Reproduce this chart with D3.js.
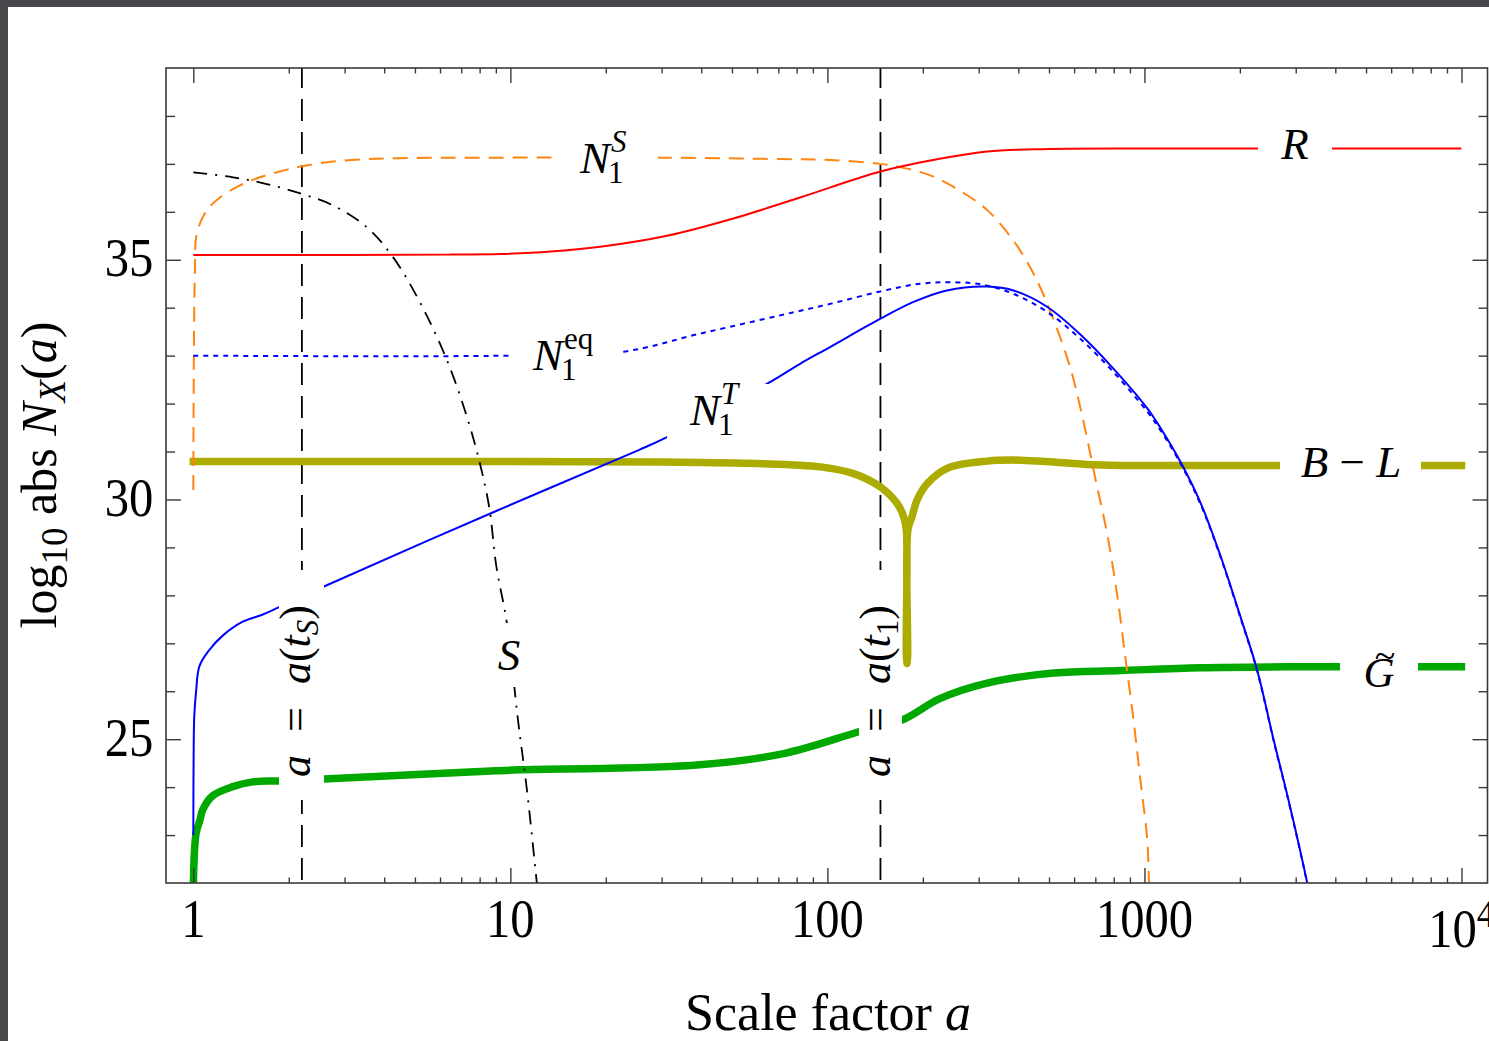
<!DOCTYPE html>
<html><head><meta charset="utf-8">
<script src="https://cdn.jsdelivr.net/npm/d3@7/dist/d3.min.js"></script>
<style>html,body{margin:0;padding:0;background:#48484c;overflow:hidden}svg{display:block}</style>
</head><body>
<svg id="chart" width="1489" height="1041"></svg>
<script>
// ---------------- data (scale factor a, log10 abs N) ----------------
const R_a = [1, 3.12, 6.45, 9.27, 13.4, 19.2, 31.2, 50.5, 82, 147, 211, 320, 504, 1000, 10000];
const R_v = [35.10, 35.10, 35.11, 35.12, 35.17, 35.27, 35.50, 35.86, 36.30, 36.84, 37.07, 37.26, 37.31, 37.32, 37.32];

const NS_a = [1, 1.004, 1.012, 1.025, 1.102, 1.214, 1.403, 1.623, 1.919, 2.198, 2.76, 3.53, 4.49, 9, 30, 71, 102, 147, 170, 211, 262, 320, 386, 447, 505, 584, 642, 700, 764, 822, 871, 923, 971, 1021, 1035];
const NS_v = [30.2, 33.0, 34.8, 35.54, 36.03, 36.30, 36.55, 36.72, 36.86, 36.95, 37.05, 37.10, 37.12, 37.13, 37.13, 37.10, 37.08, 37.00, 36.93, 36.76, 36.44, 36.03, 35.40, 34.71, 33.92, 32.74, 31.63, 30.44, 29.26, 27.97, 26.69, 25.42, 24.15, 22.88, 21.8];

const Neq_a = [1, 10, 22.5, 39.7, 71, 102, 147, 196, 244, 304, 386, 494, 628, 798, 1021, 1124, 1300, 1503, 1738, 2009, 2268, 2553, 2890, 3260, 3400];
const Neq_v = [33.0, 33.0, 33.08, 33.46, 33.84, 34.08, 34.34, 34.50, 34.53, 34.49, 34.29, 33.91, 33.35, 32.66, 31.83, 31.44, 30.75, 29.90, 28.80, 27.53, 26.42, 24.98, 23.53, 22.0, 21.4];

const NT_a = [1, 1.002, 1.007, 1.02, 1.045, 1.123, 1.238, 1.432, 1.656, 1.86, 2.593, 9.02, 25.4, 31.2, 65.2, 82, 102, 147, 187, 238, 319, 386, 493, 628, 798, 1021, 1124, 1300, 1503, 1738, 2009, 2268, 2553, 2890, 3260, 3400];
const NT_v = [23.0, 24.57, 25.49, 25.98, 26.52, 26.86, 27.16, 27.45, 27.60, 27.75, 28.19, 29.76, 31.03, 31.30, 32.43, 32.83, 33.18, 33.77, 34.12, 34.36, 34.44, 34.36, 34.02, 33.44, 32.73, 31.90, 31.49, 30.78, 29.93, 28.82, 27.55, 26.44, 25.0, 23.55, 22.01, 21.4];

const BL_a = [1, 10, 30, 60, 95, 121, 147, 165.8, 174, 177.4, 178.1, 178.5, 179.4, 184.9, 191.8, 206.3, 238.5, 318.8, 406, 517, 659, 840, 2686, 10000];
const BL_v = [30.79, 30.79, 30.78, 30.75, 30.68, 30.54, 30.26, 29.92, 29.64, 29.36, 26.58, 26.58, 29.36, 29.64, 29.99, 30.33, 30.65, 30.80, 30.82, 30.78, 30.73, 30.71, 30.71, 30.71];

const G_a = [1, 1.02, 1.05, 1.071, 1.151, 1.331, 1.539, 1.86, 2.58, 9.02, 10.57, 38.7, 74, 126.5, 172, 227, 319, 517, 840, 1502, 3105, 10000];
const G_v = [21.9, 23.03, 23.32, 23.53, 23.82, 24.01, 24.11, 24.13, 24.17, 24.34, 24.36, 24.46, 24.71, 25.16, 25.40, 25.85, 26.17, 26.38, 26.43, 26.49, 26.51, 26.51];

const S_a = [1, 1.335, 1.705, 2.198, 2.766, 3.525, 4.27, 5.17, 6.27, 7.25, 7.99, 8.59, 9.02, 9.75, 10.57, 11.28, 12.12, 12.3];
const S_v = [36.825, 36.72, 36.58, 36.375, 36.13, 35.68, 35.05, 34.13, 32.95, 31.78, 30.79, 29.81, 28.63, 27.42, 25.40, 23.94, 22.0, 21.6];

const vLines = [2.2, 147];           // a = a(t_S), a = a(t_1)
const xMajor = [1, 10, 100, 1000, 10000];
const xMajorLabels = ["1", "10", "100", "1000", "10^4"];
const yMajor = [25, 30, 35];
const yMajorLabels = ["25", "30", "35"];
const yMinor = [23, 24, 26, 27, 28, 29, 31, 32, 33, 34, 36, 37, 38];

// ---------------- layout ----------------
const W = 1489, H = 1041;
const L = 166, R = 1487.5, T = 68, B = 883;
const FONT = '"Liberation Serif","Times New Roman",serif';
const svg = d3.select('#chart');
svg.append('rect').attr('width', W).attr('height', H).attr('fill', '#48484c');
svg.append('rect').attr('x', 8).attr('y', 7).attr('width', W - 8).attr('height', H - 7).attr('fill', '#ffffff');

const x = d3.scaleLog().domain([0.82, 12080]).range([L, R]);
const y = d3.scaleLinear().domain([22, 39]).range([B, T]);

svg.append('defs').append('clipPath').attr('id', 'clip')
  .append('rect').attr('x', L).attr('y', T).attr('width', R - L).attr('height', B - T);

const plot = svg.append('g').attr('clip-path', 'url(#clip)');
const line = d3.line().x(d => x(d[0])).y(d => y(d[1])).curve(d3.curveCatmullRom.alpha(0.5));
const zip = (a, v) => a.map((d, i) => [d, v[i]]);

// vertical dashed lines
plot.selectAll('line.v').data(vLines).join('line')
  .attr('x1', d => x(d)).attr('x2', d => x(d)).attr('y1', T - 2).attr('y2', B)
  .attr('stroke', '#000').attr('stroke-width', 1.8).attr('stroke-dasharray', '22,11');

function curve(a, v, color, width, dash, cap) {
  plot.append('path').datum(zip(a, v)).attr('d', line)
    .attr('fill', 'none').attr('stroke', color).attr('stroke-width', width)
    .attr('stroke-dasharray', dash || null).attr('stroke-linecap', cap || 'butt')
    .attr('stroke-linejoin', 'bevel');
}
curve(G_a, G_v, '#00a800', 7.5, null, 'square');
curve(BL_a, BL_v, '#abab00', 7.5, null, 'square');
curve(NS_a, NS_v, '#ff8410', 2, '15,9');
curve(Neq_a, Neq_v, '#0000ff', 2, '5,5');
curve(NT_a, NT_v, '#0000ff', 2);
curve(R_a, R_v, '#ff0000', 2);
curve(S_a, S_v, '#000000', 1.8, '14,8,2,8');

// label gaps (white boxes behind labels)
const gaps = [
  [1258, 125, 1332, 170], [556, 128, 658, 190], [511, 330, 621, 385], [667, 384, 768, 442],
  [1280, 445, 1421, 485], [1340, 640, 1418, 690], [496, 623, 524, 687],
  [279, 570, 324, 800], [859, 570, 902, 800]
];
plot.selectAll('rect.gap').data(gaps).join('rect')
  .attr('x', d => d[0]).attr('y', d => d[1]).attr('width', d => d[2] - d[0]).attr('height', d => d[3] - d[1])
  .attr('fill', '#fff');

// ---------------- labels ----------------
const gL = svg.append('g').attr('font-family', FONT).attr('fill', '#000');
function itext(xp, yp, s, size, anchor) {
  return gL.append('text').attr('x', xp).attr('y', yp).attr('font-size', size).attr('font-style', 'italic')
    .attr('text-anchor', anchor || 'start').text(s);
}
function nLabel(xl, base, sup, sub, supItalic) {
  const t = itext(xl, base, 'N', 45);
  const w = t.node().getComputedTextLength();
  gL.append('text').attr('x', xl + w + 1).attr('y', base - 21).attr('font-size', 31)
    .attr('font-style', supItalic ? 'italic' : 'normal').text(sup);
  gL.append('text').attr('x', xl + w - 2).attr('y', base + 10).attr('font-size', 31).text(sub);
}
nLabel(580, 173, 'S', '1', true);
nLabel(533, 370, 'eq', '1', false);
nLabel(690, 425, 'T', '1', true);
itext(1295, 159, 'R', 45, 'middle');
itext(509, 670, 'S', 45, 'middle');
{
  const t = gL.append('text').attr('x', 1351).attr('y', 477).attr('font-size', 45).attr('text-anchor', 'middle');
  t.append('tspan').attr('font-style', 'italic').text('B');
  t.append('tspan').text(' \u2212 ');
  t.append('tspan').attr('font-style', 'italic').text('L');
}
itext(1379, 687, 'G', 43, 'middle');
gL.append('text').attr('x', 1385).attr('y', 668).attr('font-size', 38).attr('text-anchor', 'middle').text('~');

function vLabel(cx, cy, sub, subItalic) {
  const t = gL.append('text').attr('transform', `translate(${cx},${cy}) rotate(-90)`)
    .attr('text-anchor', 'middle').attr('font-size', 44);
  t.append('tspan').attr('font-style', 'italic').text('a');
  t.append('tspan').attr('dx', 23).text('=');
  t.append('tspan').attr('dx', 23).attr('font-style', 'italic').text('a');
  t.append('tspan').text('(');
  t.append('tspan').attr('font-style', 'italic').text('t');
  t.append('tspan').attr('font-size', 31).attr('dy', 8).attr('font-style', subItalic ? 'italic' : 'normal').text(sub);
  t.append('tspan').attr('dy', -8).text(')');
}
vLabel(x(vLines[0]) + 8, 691, 'S', true);
vLabel(x(vLines[1]) + 10, 691, '1', false);

// ---------------- frame & ticks ----------------
const AX = '#3a3a3a';
const gA = svg.append('g').attr('color', AX);
const xMinor = [];
for (const d of [1, 10, 100, 1000]) for (let k = 2; k <= 9; k++) xMinor.push(k * d);
function ticks(axisFn, scale, vals, size, tr) {
  gA.append('g').attr('transform', tr)
    .call(axisFn(scale).tickValues(vals).tickSize(size).tickFormat(''))
    .call(g => { g.select('.domain').remove(); g.selectAll('line').attr('stroke-width', 1.4); });
}
ticks(d3.axisTop, x, xMajor, 15, `translate(0,${B})`);
ticks(d3.axisTop, x, xMinor, 5.5, `translate(0,${B})`);
ticks(d3.axisBottom, x, xMajor, 15, `translate(0,${T})`);
ticks(d3.axisBottom, x, xMinor, 5.5, `translate(0,${T})`);
ticks(d3.axisRight, y, yMajor, 15, `translate(${L},0)`);
ticks(d3.axisRight, y, yMinor, 9, `translate(${L},0)`);
ticks(d3.axisLeft, y, yMajor, 15, `translate(${R},0)`);
ticks(d3.axisLeft, y, yMinor, 9, `translate(${R},0)`);
svg.append('rect').attr('x', L).attr('y', T).attr('width', R - L).attr('height', B - T)
  .attr('fill', 'none').attr('stroke', AX).attr('stroke-width', 1.6);

// tick labels
const gT = svg.append('g').attr('font-family', FONT).attr('font-size', 54).attr('fill', '#000');
xMajor.forEach((v, i) => {
  const s = xMajorLabels[i];
  if (s.includes('^')) {
    const [b, e] = s.split('^');
    const t = gT.append('text').attr('transform', `translate(${x(v)},947) scale(0.9,1)`).attr('text-anchor', 'middle');
    t.append('tspan').text(b);
    t.append('tspan').attr('font-size', 40).attr('dy', -20).text(e);
  } else {
    gT.append('text').attr('transform', `translate(${x(v)},936.5) scale(0.9,1)`).attr('text-anchor', 'middle').text(s);
  }
});
yMajor.forEach((v, i) => {
  gT.append('text').attr('transform', `translate(153.3,${y(v) + 16.5}) scale(0.9,1)`).attr('text-anchor', 'end').text(yMajorLabels[i]);
});

// axis titles
{
  const t = gL.append('text').attr('x', 828).attr('y', 1030).attr('font-size', 52).attr('text-anchor', 'middle');
  t.append('tspan').text('Scale factor ');
  t.append('tspan').attr('font-style', 'italic').text('a');
}
{
  const t = gL.append('text').attr('transform', 'translate(56,475) rotate(-90)').attr('font-size', 50).attr('text-anchor', 'middle');
  t.append('tspan').text('log');
  t.append('tspan').attr('font-size', 37).attr('dy', 11).text('10');
  t.append('tspan').attr('dy', -11).text(' abs ');
  t.append('tspan').attr('font-style', 'italic').text('N');
  t.append('tspan').attr('font-size', 37).attr('dy', 9).attr('font-style', 'italic').text('X');
  t.append('tspan').attr('dy', -9).text('(');
  t.append('tspan').attr('font-style', 'italic').text('a');
  t.append('tspan').text(')');
}
</script>
</body></html>
